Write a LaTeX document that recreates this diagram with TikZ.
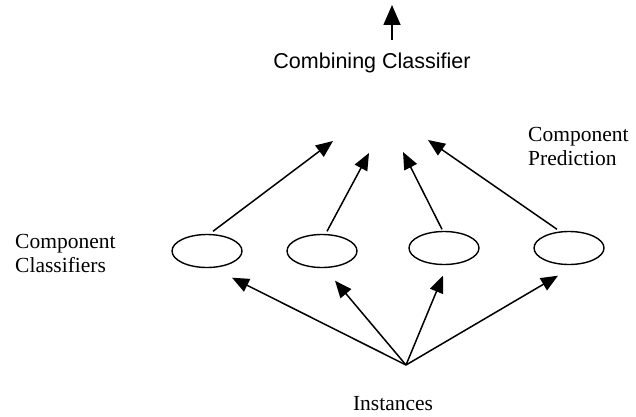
\documentclass[tikz,border=0pt]{standalone}
\usepackage{fontspec}
\setmainfont{Liberation Serif}
\newfontfamily\arialfont{Liberation Sans}
\usetikzlibrary{shapes.geometric,arrows.meta}
\tikzset{
  comp/.style={ellipse,draw,line width=1.4pt,minimum width=70pt,minimum height=33pt,inner sep=0pt},
  arr/.style={line width=1.5pt,-{Triangle[length=17pt,width=14pt]}},
  bigarr/.style={line width=1.6pt,-{Triangle[length=20pt,width=17pt]}},
  lbl/.style={inner sep=0pt,font=\fontsize{21.5}{24}\selectfont},
  sanslbl/.style={inner sep=0pt,font=\fontsize{21.5}{24}\selectfont\arialfont}
}
\begin{document}
\begin{tikzpicture}[x=1pt,y=1pt]
\useasboundingbox (0,0) rectangle (636,416);
\fill[white] (0,0) rectangle (636,416);
% combining classifier
\node[sanslbl,anchor=base] (comb) at (372,348) {Combining Classifier};
\coordinate (ctip) at (392,411);
\draw[bigarr] ([xshift=20pt,yshift=12pt]comb.north) -- (ctip);
% component classifiers
\node[comp] (e1) at (207,165) {};
\node[comp] (e2) at (322,165) {};
\node[comp] (e3) at (444,168) {};
\node[comp] (e4) at (569,168) {};
% prediction arrow tips
\coordinate (t1) at (333,275);
\coordinate (t2) at (369,263);
\coordinate (t3) at (403,264);
\coordinate (t4) at (428,276);
\draw[arr] ([xshift=6pt,yshift=2.5pt]e1.north) -- (t1);
\draw[arr] ([xshift=5pt,yshift=2.5pt]e2.north) -- (t2);
\draw[arr] ([xshift=-2pt,yshift=1.5pt]e3.north) -- (t3);
\draw[arr] ([xshift=-12pt,yshift=1.5pt]e4.north) -- (t4);
% instances
\node[lbl,anchor=base] (inst) at (393,6) {Instances};
\coordinate (src) at (406,51);
\draw[arr] (src) -- ([xshift=25pt,yshift=-9.5pt]e1.south);
\draw[arr] (src) -- ([xshift=13pt,yshift=-12.5pt]e2.south);
\draw[arr] (src) -- ([xshift=-1pt,yshift=-10.5pt]e3.south);
\draw[arr] (src) -- ([xshift=-11pt,yshift=-10.5pt]e4.south);
% labels
\node[lbl,anchor=base west,align=left] (cc) at (15,144) {Component\\Classifiers};
\node[lbl,anchor=base west,align=left] (cp) at (528,251) {Component\\Prediction};
\end{tikzpicture}
\end{document}
